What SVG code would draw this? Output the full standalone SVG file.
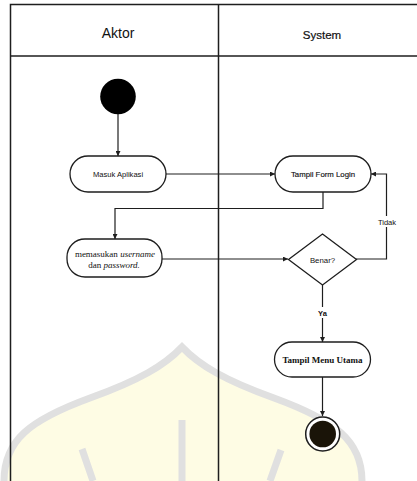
<svg xmlns="http://www.w3.org/2000/svg" width="417" height="481" viewBox="0 0 417 481">
<style>
.frame{stroke:#1e1e1e;stroke-width:1.5;fill:none}
.node{fill:#fff;stroke:#1e1e1e;stroke-width:1.3}
.edge{stroke:#1e1e1e;stroke-width:1.2;fill:none}
.sans{font-family:"Liberation Sans",Arial,sans-serif;fill:#111}
.serif{font-family:"Liberation Serif","Times New Roman",serif;fill:#111}
.wm{stroke:#e0e0e0;stroke-width:7;fill:none;stroke-linecap:butt}
</style>
<defs>
<marker id="ah" viewBox="0 0 10 10" refX="10" refY="5" markerWidth="5" markerHeight="5" orient="auto" markerUnits="userSpaceOnUse">
<path d="M0 0 L10 5 L0 10 Z" fill="#1e1e1e"/>
</marker>
</defs>
<rect width="417" height="481" fill="#fff"/>
<g id="watermark">
<path d="M4 481 C4 440 30 420 90 398 C140 380 165 365 182 347 C199 365 224 380 274 398 C334 420 362 440 362 481 Z" fill="#fefce4" stroke="none"/>
<path class="wm" d="M4 481 C4 440 30 420 90 398 C140 380 165 365 182 347 C199 365 224 380 274 398 C334 420 362 440 362 481"/>
<line class="wm" x1="182" y1="420" x2="182" y2="481"/>
<line class="wm" x1="82" y1="449" x2="93" y2="481"/>
<line class="wm" x1="281" y1="450" x2="270" y2="481"/>
</g>
<g id="swimlanes">
<path class="frame" d="M10.5 481 V4.5 H417"/>
<line class="frame" x1="10.5" y1="56" x2="417" y2="56"/>
<line class="frame" x1="218.5" y1="4.5" x2="218.5" y2="481"/>
<text class="sans" x="118" y="38" font-size="14" text-anchor="middle">Aktor</text>
<text class="sans" x="322" y="39" font-size="11.5" text-anchor="middle" stroke="#111" stroke-width="0.2">System</text>
</g>
<g id="connectors">
<line class="edge" x1="118" y1="114" x2="118" y2="156" marker-end="url(#ah)"/>
<line class="edge" x1="166" y1="174" x2="275" y2="174" marker-end="url(#ah)"/>
<polyline class="edge" points="323,192 323,208.5 115,208.5 115,239" marker-end="url(#ah)"/>
<line class="edge" x1="162" y1="259" x2="288" y2="259" marker-end="url(#ah)"/>
<polyline class="edge" points="356,259 386.5,259 386.5,174 371,174" marker-end="url(#ah)"/>
<line class="edge" x1="322.5" y1="285" x2="322.5" y2="342" marker-end="url(#ah)"/>
<line class="edge" x1="322.5" y1="377" x2="322.5" y2="416" marker-end="url(#ah)"/>
<rect x="376" y="216" width="22" height="11" fill="#fff"/>
<text class="sans" x="387" y="225" font-size="7.5" text-anchor="middle">Tidak</text>
<rect x="315" y="307" width="15" height="11" fill="#fff"/>
<text class="sans" x="322.5" y="316" font-size="7.5" text-anchor="middle" font-weight="bold">Ya</text>
</g>
<g id="start">
<circle cx="118" cy="96.5" r="17.8" fill="#000"/>
</g>
<g id="masuk-aplikasi">
<rect class="node" x="70" y="156" width="96" height="36" rx="18"/>
<text class="sans" x="118" y="176.5" font-size="7.6" text-anchor="middle">Masuk Aplikasi</text>
</g>
<g id="tampil-form-login">
<rect class="node" x="275" y="156" width="96" height="36" rx="18"/>
<text class="sans" x="323" y="176.5" font-size="7.8" text-anchor="middle" stroke="#111" stroke-width="0.15">Tampil Form Login</text>
</g>
<g id="memasukan">
<rect class="node" x="67" y="239" width="95" height="38" rx="18"/>
<text class="serif" x="115" y="256.5" font-size="9" text-anchor="middle">memasukan <tspan font-style="italic">username</tspan></text>
<text class="serif" x="114" y="267.5" font-size="9" text-anchor="middle">dan <tspan font-style="italic">password.</tspan></text>
</g>
<g id="benar">
<polygon class="node" points="322.5,234 356.5,259.5 322.5,285 288.5,259.5"/>
<text class="sans" x="322.5" y="262.5" font-size="7.8" text-anchor="middle">Benar?</text>
</g>
<g id="tampil-menu-utama">
<rect class="node" x="274.5" y="342" width="96" height="35" rx="17.5"/>
<text class="serif" x="322.5" y="363.3" font-size="9" text-anchor="middle" font-weight="bold">Tampil Menu Utama</text>
</g>
<g id="end">
<circle cx="322.7" cy="434" r="17" fill="#fff" stroke="#1e1e1e" stroke-width="1.5"/>
<circle cx="322.7" cy="434" r="13.3" fill="#1a1408"/>
</g>
</svg>
